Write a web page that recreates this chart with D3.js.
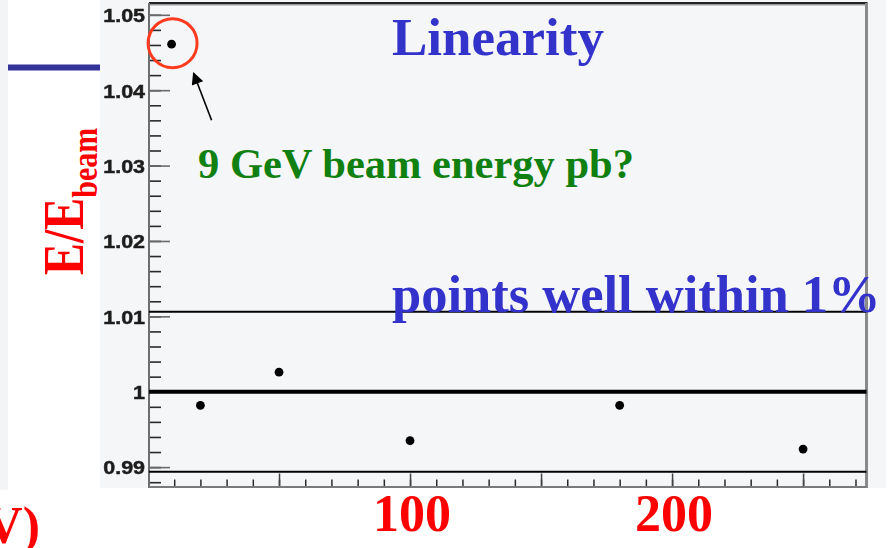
<!DOCTYPE html>
<html>
<head>
<meta charset="utf-8">
<script src="https://cdn.jsdelivr.net/npm/d3@7"></script>
<style>
  html, body { margin: 0; padding: 0; background: #ffffff; }
  svg { display: block; }
</style>
</head>
<body>
<svg id="chart" width="894" height="548"></svg>
<script>
// Beam energies (GeV) and reconstructed energy over beam energy
const beamEnergy = [9, 20, 50, 100, 180, 250];
const eRatio     = [1.0461, 0.9982, 1.0026, 0.9935, 0.9982, 0.9924];

// Axis ticks
const yTickValues = [0.99, 1.0, 1.01, 1.02, 1.03, 1.04, 1.05];
const yTickLabels = ["0.99", "1", "1.01", "1.02", "1.03", "1.04", "1.05"];
const xTickValues = [50, 100, 150, 200, 250];
const xTickLabels = ["100", "200"];

// Reference band: unity line and the ~1% limits
const unityLine = 1.0;
const bandLines = [1.0106, 0.9894];

const svg = d3.select("#chart");
const W = 894, H = 548;

const x = d3.scaleLinear().domain([0, 274.2]).range([148, 866.5]);
const y = d3.scaleLinear().domain([0.98723, 1.0515]).range([488, 3.5]);

// Backgrounds
svg.append("rect").attr("x", 0).attr("y", 0).attr("width", W).attr("height", H).attr("fill", "#ffffff");
svg.append("rect").attr("x", 0).attr("y", 0).attr("width", 8).attr("height", 490).attr("fill", "#f3f4f6");
svg.append("rect").attr("x", 100).attr("y", 0).attr("width", 786).attr("height", 488).attr("fill", "#f5f6f8");

// Blue rule on the left panel
svg.append("rect").attr("x", 8).attr("y", 64.5).attr("width", 92).attr("height", 6).attr("fill", "#333399");

const defs = svg.append("defs");
const softer = defs.append("filter").attr("id", "soft")
  .attr("x", "-10%").attr("y", "-10%").attr("width", "120%").attr("height", "120%");
softer.append("feGaussianBlur").attr("stdDeviation", 0.5);

// Frame
const x0 = x.range()[0] + 1, x1 = x.range()[1];
svg.append("line").attr("x1", x0).attr("x2", x1 + 1).attr("y1", 4.5).attr("y2", 4.5)
  .attr("stroke", "#9a9a9a").attr("stroke-width", 2);
svg.append("line").attr("x1", x0).attr("x2", x1 + 1).attr("y1", 3).attr("y2", 3)
  .attr("stroke", "#222").attr("stroke-width", 2);
svg.append("line").attr("x1", x1).attr("x2", x1).attr("y1", 3).attr("y2", 488)
  .attr("stroke", "#8a8a8a").attr("stroke-width", 3);

// Y axis: major ticks with labels, then minor ticks
const yMinor = d3.range(0.988, 1.0515, 0.002);
const yMinorAxis = d3.axisLeft(y).tickValues(yMinor).tickSizeInner(-12).tickSizeOuter(0).tickFormat("");
const yAxis = d3.axisLeft(y).tickValues(yTickValues).tickSizeInner(-21).tickSizeOuter(0)
  .tickPadding(4).tickFormat((d, i) => yTickLabels[i]);

const gyMinor = svg.append("g").attr("transform", `translate(${x0},0)`).call(yMinorAxis);
gyMinor.select(".domain").remove();
gyMinor.selectAll(".tick line").attr("stroke", "#2a2a2a").attr("stroke-width", 1.6);

const gy = svg.append("g").attr("transform", `translate(${x0},0)`).call(yAxis);
gy.select(".domain").remove();
gy.selectAll(".tick line").attr("stroke", "#6a6a6a").attr("stroke-width", 1.6);
const labelStretch = 1.13;
gy.selectAll(".tick text")
  .attr("x", -4 / labelStretch)
  .attr("dy", "0.36em")
  .attr("transform", `scale(${labelStretch},1)`)
  .attr("fill", "#1e1e1e")
  .attr("stroke", "#1e1e1e")
  .attr("stroke-width", 0.5)
  .attr("font-family", "Liberation Sans, Arial, sans-serif")
  .attr("font-weight", "bold")
  .attr("font-size", 19)
  .attr("filter", "url(#soft)");

// X axis: major and minor ticks pointing into the plot
const xMinor = d3.range(10, 274, 10);
const xMinorAxis = d3.axisBottom(x).tickValues(xMinor).tickSizeInner(-8).tickSizeOuter(0).tickFormat("");
const xAxis = d3.axisBottom(x).tickValues(xTickValues).tickSizeInner(-14).tickSizeOuter(0).tickFormat("");

const gxMinor = svg.append("g").attr("transform", "translate(0,487.5)").call(xMinorAxis);
gxMinor.select(".domain").remove();
gxMinor.selectAll(".tick line").attr("stroke", "#2a2a2a").attr("stroke-width", 1.5);
const gx = svg.append("g").attr("transform", "translate(0,487.5)").call(xAxis);
gx.select(".domain").remove();
gx.selectAll(".tick line").attr("stroke", "#444").attr("stroke-width", 1.5);

// Axis lines
svg.append("line").attr("x1", x0).attr("x2", x0).attr("y1", 3).attr("y2", 488)
  .attr("stroke", "#6e6e6e").attr("stroke-width", 2);
svg.append("line").attr("x1", x0).attr("x2", x1).attr("y1", 487).attr("y2", 487)
  .attr("stroke", "#7a7a7a").attr("stroke-width", 2);

// Reference lines
svg.append("line").attr("x1", x0).attr("x2", x1).attr("y1", y(unityLine)).attr("y2", y(unityLine))
  .attr("stroke", "#000").attr("stroke-width", 4);
svg.selectAll("line.band").data(bandLines).join("line").attr("class", "band")
  .attr("x1", x0).attr("x2", x1).attr("y1", d => y(d)).attr("y2", d => y(d))
  .attr("stroke", "#000").attr("stroke-width", 2);

// Measured points
svg.selectAll("circle.pt").data(beamEnergy).join("circle").attr("class", "pt")
  .attr("cx", d => x(d)).attr("cy", (d, i) => y(eRatio[i]))
  .attr("r", 4.4).attr("fill", "#000");

// Highlight the outlier at the lowest beam energy
const cx9 = x(beamEnergy[0]), cy9 = y(eRatio[0]);
svg.append("circle").attr("cx", cx9 + 1).attr("cy", cy9 - 1).attr("r", 24.5)
  .attr("fill", "none").attr("stroke", "#ff3b1f").attr("stroke-width", 3);

defs.append("marker").attr("id", "arrowhead").attr("viewBox", "0 0 10 10")
  .attr("refX", 9).attr("refY", 5).attr("markerWidth", 14).attr("markerHeight", 12)
  .attr("markerUnits", "userSpaceOnUse").attr("orient", "auto")
  .append("path").attr("d", "M0,0 L10,5 L0,10 Z").attr("fill", "#000");
svg.append("line")
  .attr("x1", cx9 + 40).attr("y1", cy9 + 76)
  .attr("x2", cx9 + 22).attr("y2", cy9 + 29)
  .attr("stroke", "#000").attr("stroke-width", 1.6)
  .attr("marker-end", "url(#arrowhead)");

// Annotations
const serif = "Liberation Serif, 'Times New Roman', serif";
svg.append("text").attr("x", 392).attr("y", 55)
  .attr("font-family", serif).attr("font-weight", "bold").attr("font-size", 53)
  .attr("fill", "#3333cc").text("Linearity");
svg.append("text").attr("x", 392).attr("y", 311.5)
  .attr("font-family", serif).attr("font-weight", "bold").attr("font-size", 52.5)
  .attr("fill", "#3333cc").text("points well within 1%");
svg.append("text").attr("x", 198).attr("y", 178)
  .attr("font-family", serif).attr("font-weight", "bold").attr("font-size", 42.5)
  .attr("fill", "#108010").text("9 GeV beam energy pb?");

// X tick labels in red below the axis
svg.selectAll("text.xlab").data(xTickLabels).join("text").attr("class", "xlab")
  .attr("x", d => x(+d) + 2).attr("y", 531)
  .attr("text-anchor", "middle")
  .attr("font-family", serif).attr("font-weight", "bold").attr("font-size", 52)
  .attr("fill", "#ff0000").text(d => d);

// X title (runs off the left edge)
svg.append("text").attr("x", 40).attr("y", 543)
  .attr("text-anchor", "end")
  .attr("font-family", serif).attr("font-weight", "bold").attr("font-size", 52)
  .attr("fill", "#ff0000").text("E (GeV)");

// Y title
const yt = svg.append("text")
  .attr("transform", "translate(83,275) scale(1.19,1) rotate(-90)")
  .attr("font-family", serif).attr("font-weight", "bold").attr("font-size", 48)
  .attr("fill", "#ff0000");
yt.append("tspan").text("E/E");
yt.append("tspan").attr("dy", 12).attr("font-size", 30).text("beam");
</script>
</body>
</html>
